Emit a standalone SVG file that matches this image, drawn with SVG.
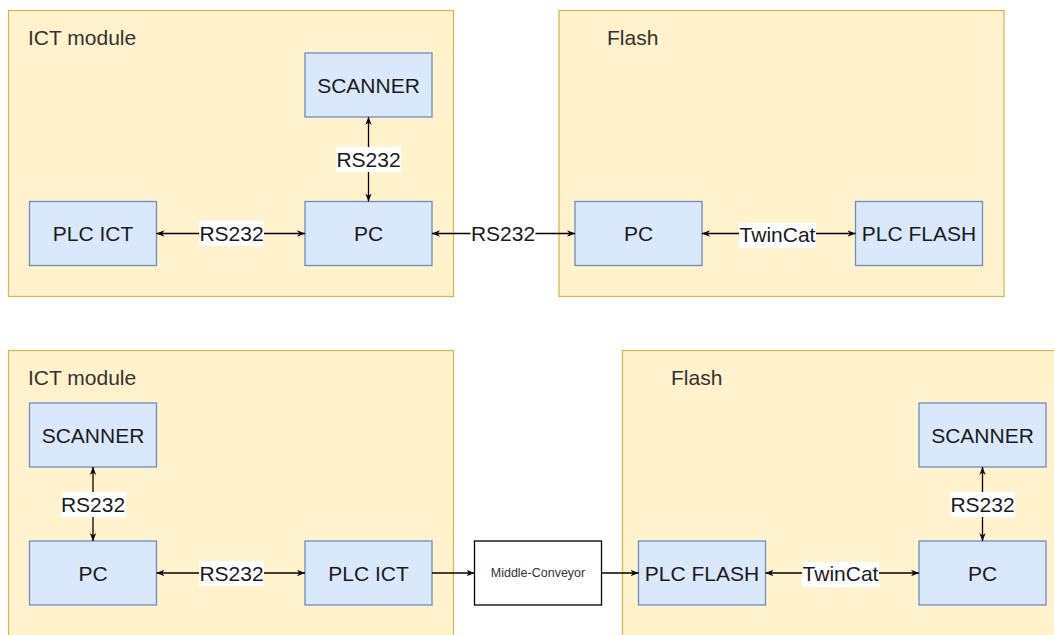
<svg xmlns="http://www.w3.org/2000/svg" width="1054" height="635" viewBox="0 0 1054 635">
  <style>
    .group { fill: #fff2cc; stroke: #d6b656; stroke-width: 1.3; }
    .node { fill: #dae8fc; stroke: #6c8ebf; stroke-width: 1.3; }
    .plain { fill: #ffffff; stroke: #000000; stroke-width: 1.3; }
    .title { font-family: "Liberation Sans", Arial, sans-serif; font-size: 21px; fill: #333333; }
    .label { font-family: "Liberation Sans", Arial, sans-serif; font-size: 21px; fill: #1a1a1a; text-anchor: middle; }
    .small { font-family: "Liberation Sans", Arial, sans-serif; font-size: 12.5px; fill: #333333; text-anchor: middle; }
    .edge { stroke: #000000; stroke-width: 1.3; fill: none; }
    .edge-bg { fill: #ffffff; }
  </style>
  <defs>
    <marker id="arrow" viewBox="0 0 10 10" refX="10" refY="5" markerWidth="8" markerHeight="8" markerUnits="userSpaceOnUse" orient="auto-start-reverse">
      <path d="M0,1 L10,5 L0,9 L3,5 z" fill="#000000"/>
    </marker>
  </defs>
  <rect width="1054" height="635" fill="#ffffff"/>

  <!-- top row containers -->
  <g id="ict-module-top">
    <rect class="group" x="8.5" y="10.5" width="445" height="286"/>
    <text class="title" x="28" y="45">ICT module</text>
  </g>
  <g id="flash-top">
    <rect class="group" x="559" y="10.5" width="445" height="286"/>
    <text class="title" x="607" y="45">Flash</text>
  </g>

  <!-- bottom row containers -->
  <g id="ict-module-bottom">
    <rect class="group" x="8.5" y="350.5" width="445" height="300"/>
    <text class="title" x="28" y="385">ICT module</text>
  </g>
  <g id="flash-bottom">
    <rect class="group" x="622.5" y="350.5" width="450" height="300"/>
    <text class="title" x="671" y="385">Flash</text>
  </g>

  <!-- top row nodes -->
  <g id="scanner-top">
    <rect class="node" x="305" y="53" width="127" height="64"/>
    <text class="label" x="368.5" y="92.5">SCANNER</text>
  </g>
  <g id="pc-ict-top">
    <rect class="node" x="305" y="201.5" width="127" height="64"/>
    <text class="label" x="368.5" y="241">PC</text>
  </g>
  <g id="plc-ict-top">
    <rect class="node" x="29.5" y="201.5" width="127" height="64"/>
    <text class="label" x="93" y="241">PLC ICT</text>
  </g>
  <g id="pc-flash-top">
    <rect class="node" x="575" y="201.5" width="127" height="64"/>
    <text class="label" x="638.5" y="241">PC</text>
  </g>
  <g id="plc-flash-top">
    <rect class="node" x="855.5" y="201.5" width="127" height="64"/>
    <text class="label" x="919" y="241">PLC FLASH</text>
  </g>

  <!-- bottom row nodes -->
  <g id="scanner-ict-bottom">
    <rect class="node" x="29.5" y="403" width="127" height="64"/>
    <text class="label" x="93" y="442.5">SCANNER</text>
  </g>
  <g id="pc-ict-bottom">
    <rect class="node" x="29.5" y="541" width="127" height="64"/>
    <text class="label" x="93" y="580.5">PC</text>
  </g>
  <g id="plc-ict-bottom">
    <rect class="node" x="305" y="541" width="127" height="64"/>
    <text class="label" x="368.5" y="580.5">PLC ICT</text>
  </g>
  <g id="middle-conveyor">
    <rect class="plain" x="474.5" y="541" width="127" height="64"/>
    <text class="small" x="538" y="576.5">Middle-Conveyor</text>
  </g>
  <g id="plc-flash-bottom">
    <rect class="node" x="638.5" y="541" width="127" height="64"/>
    <text class="label" x="702" y="580.5">PLC FLASH</text>
  </g>
  <g id="scanner-flash-bottom">
    <rect class="node" x="919" y="403" width="127" height="64"/>
    <text class="label" x="982.5" y="442.5">SCANNER</text>
  </g>
  <g id="pc-flash-bottom">
    <rect class="node" x="919" y="541" width="127" height="64"/>
    <text class="label" x="982.5" y="580.5">PC</text>
  </g>

  <!-- connectors -->
  <g id="connectors">
    <!-- top: scanner <-> pc -->
    <line class="edge" x1="368.5" y1="117" x2="368.5" y2="201.5" marker-start="url(#arrow)" marker-end="url(#arrow)"/>
    <rect class="edge-bg" x="336" y="147" width="65" height="25"/>
    <text class="label" x="368.5" y="167">RS232</text>

    <!-- top: plc ict <-> pc -->
    <line class="edge" x1="156.5" y1="233.5" x2="305" y2="233.5" marker-start="url(#arrow)" marker-end="url(#arrow)"/>
    <rect class="edge-bg" x="199" y="221" width="65" height="25"/>
    <text class="label" x="231.5" y="241">RS232</text>

    <!-- top: pc ict <-> pc flash -->
    <line class="edge" x1="432" y1="233.5" x2="575" y2="233.5" marker-start="url(#arrow)" marker-end="url(#arrow)"/>
    <rect class="edge-bg" x="470.5" y="221" width="65" height="25"/>
    <text class="label" x="503" y="241">RS232</text>

    <!-- top: pc flash <-> plc flash -->
    <line class="edge" x1="702" y1="233.5" x2="855.5" y2="233.5" marker-start="url(#arrow)" marker-end="url(#arrow)"/>
    <rect class="edge-bg" x="739" y="223" width="77" height="25"/>
    <text class="label" x="777.5" y="242">TwinCat</text>

    <!-- bottom: scanner <-> pc (ict) -->
    <line class="edge" x1="93" y1="467" x2="93" y2="541" marker-start="url(#arrow)" marker-end="url(#arrow)"/>
    <rect class="edge-bg" x="61" y="492" width="65" height="25"/>
    <text class="label" x="93" y="512">RS232</text>

    <!-- bottom: pc <-> plc ict -->
    <line class="edge" x1="156.5" y1="573" x2="305" y2="573" marker-start="url(#arrow)" marker-end="url(#arrow)"/>
    <rect class="edge-bg" x="199" y="561" width="65" height="25"/>
    <text class="label" x="231.5" y="580.5">RS232</text>

    <!-- bottom: plc ict -> middle conveyor -> plc flash -->
    <line class="edge" x1="432" y1="573" x2="474.5" y2="573" marker-end="url(#arrow)"/>
    <line class="edge" x1="601.5" y1="573" x2="638.5" y2="573" marker-end="url(#arrow)"/>

    <!-- bottom: plc flash <-> pc (flash) -->
    <line class="edge" x1="765.5" y1="573" x2="919" y2="573" marker-start="url(#arrow)" marker-end="url(#arrow)"/>
    <rect class="edge-bg" x="802" y="562" width="77" height="25"/>
    <text class="label" x="840.5" y="581">TwinCat</text>

    <!-- bottom: scanner <-> pc (flash) -->
    <line class="edge" x1="982.5" y1="467" x2="982.5" y2="541" marker-start="url(#arrow)" marker-end="url(#arrow)"/>
    <rect class="edge-bg" x="950" y="492" width="65" height="25"/>
    <text class="label" x="982.5" y="512">RS232</text>
  </g>
</svg>
